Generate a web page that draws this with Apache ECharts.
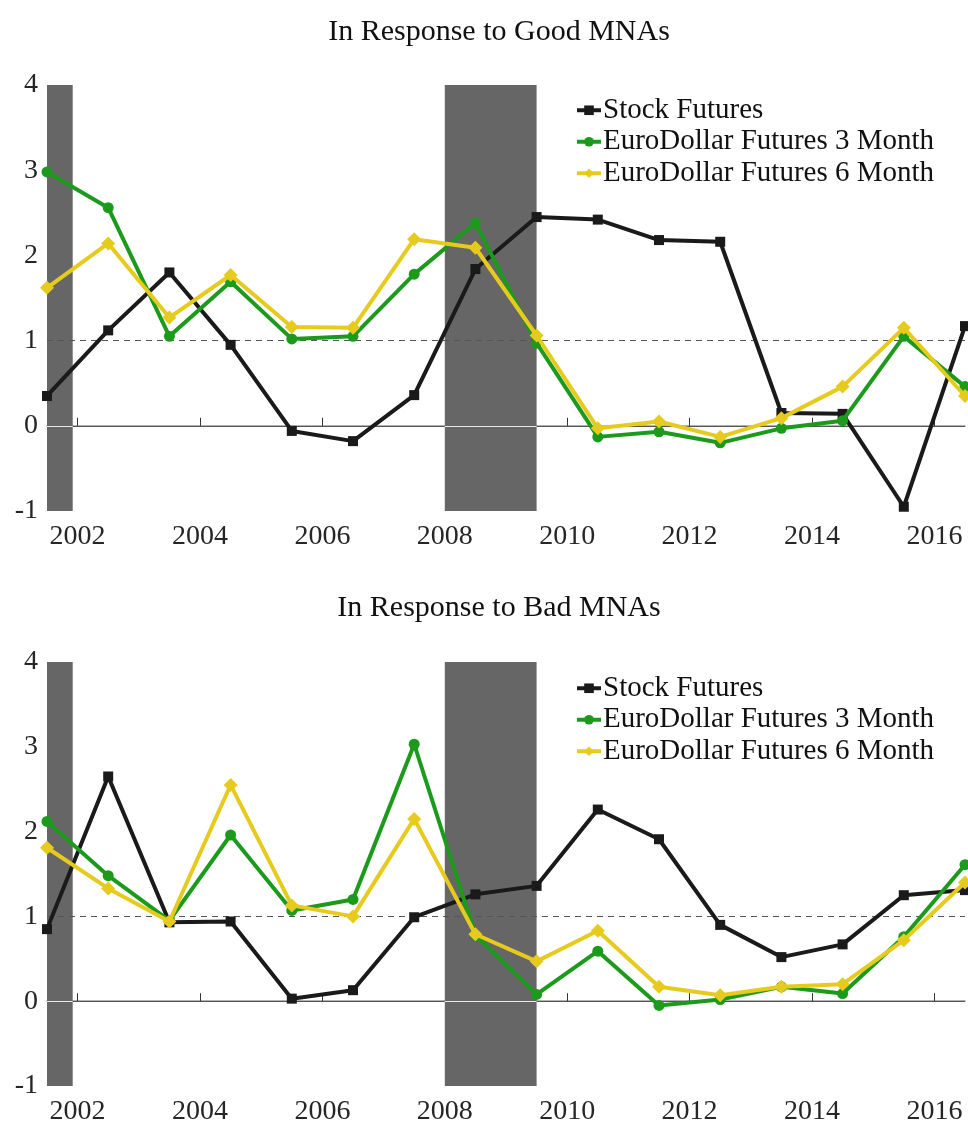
<!DOCTYPE html>
<html>
<head>
<meta charset="utf-8">
<script src="https://cdn.jsdelivr.net/npm/echarts@6/dist/echarts.min.js"></script>
<style>
  html, body { margin: 0; padding: 0; background: #fff; }
  #chart { width: 968px; height: 1126px; }
</style>
</head>
<body>
<div id="chart"></div>
<script>
// Observation dates (mid-year)
const years = [2001.5, 2002.5, 2003.5, 2004.5, 2005.5, 2006.5, 2007.5, 2008.5,
               2009.5, 2010.5, 2011.5, 2012.5, 2013.5, 2014.5, 2015.5, 2016.5];

// Responses to good MNAs
const goodStock = [0.35, 1.12, 1.80, 0.95, -0.06, -0.18, 0.36, 1.84,
                   2.45, 2.42, 2.18, 2.16, 0.15, 0.14, -0.95, 1.17];
const goodED3 = [2.98, 2.56, 1.05, 1.69, 1.02, 1.05, 1.78, 2.38,
                 0.97, -0.13, -0.07, -0.20, -0.03, 0.06, 1.05, 0.46];
const goodED6 = [1.62, 2.14, 1.27, 1.77, 1.16, 1.15, 2.19, 2.09,
                 1.06, -0.03, 0.05, -0.13, 0.09, 0.46, 1.15, 0.35];

// Responses to bad MNAs
const badStock = [0.85, 2.65, 0.93, 0.94, 0.03, 0.13, 0.99, 1.26,
                  1.36, 2.26, 1.91, 0.90, 0.52, 0.67, 1.25, 1.31];
const badED3 = [2.12, 1.48, 0.95, 1.96, 1.07, 1.20, 3.03, 0.78,
                0.08, 0.59, -0.05, 0.02, 0.17, 0.09, 0.76, 1.61];
const badED6 = [1.81, 1.33, 0.94, 2.55, 1.13, 1.00, 2.15, 0.79,
                0.47, 0.83, 0.17, 0.07, 0.17, 0.20, 0.72, 1.40];

// NBER recessions (start, end), clipped to the sample
const recessions = [[2001.5, 2001.92], [2008.0, 2009.5]];

const xTicks = [2002, 2004, 2006, 2008, 2010, 2012, 2014, 2016];
const panelTitles = ['In Response to Good MNAs', 'In Response to Bad MNAs'];
const seriesNames = ['Stock Futures', 'EuroDollar Futures 3 Month', 'EuroDollar Futures 6 Month'];

const SERIF = '"Liberation Serif", "DejaVu Serif", serif';
const colors = ['#1a1a1a', '#1c9a1c', '#e6cb1e'];
const symbols = ['rect', 'circle', 'diamond'];
const symbolSizes = [10, 11, 14];

const panels = [
  { top: 85, height: 426, data: [goodStock, goodED3, goodED6], titleTop: 12, legendTop: 90 },
  { top: 662, height: 427, data: [badStock, badED3, badED6], titleTop: 588, legendTop: 668 }
];

const grid = [], xAxis = [], yAxis = [], series = [], title = [], legend = [];

panels.forEach((p, i) => {
  grid.push({ left: 47, right: 3, top: p.top, height: p.height, containLabel: false });
  title.push({
    text: panelTitles[i], left: 494, top: p.titleTop, textAlign: 'center',
    textStyle: { fontFamily: SERIF, fontSize: 30, fontWeight: 'normal', color: '#111' }
  });
  xAxis.push({
    type: 'value', gridIndex: i, min: 2001.5, max: 2016.5,
    axisLine: { show: true, lineStyle: { color: '#999', width: 1.5 } },
    axisTick: { show: true, inside: true, length: 8, customValues: xTicks,
                lineStyle: { color: '#333', width: 1 } },
    axisLabel: { customValues: xTicks, fontFamily: SERIF, fontSize: 28, color: '#262626',
                 margin: 12, formatter: v => String(v) },
    splitLine: { show: false }
  });
  yAxis.push({
    type: 'value', gridIndex: i, min: -1, max: 4, interval: 1,
    axisLine: { show: false }, axisTick: { show: false },
    axisLabel: { fontFamily: SERIF, fontSize: 28, color: '#262626', margin: 9 },
    splitLine: { show: false }
  });

  // recession shading, with the zero line running light across each span
  series.push({
    type: 'line', xAxisIndex: i, yAxisIndex: i, data: [], z: 1, silent: true,
    markArea: {
      silent: true, z: 1,
      itemStyle: { color: '#666666', opacity: 1 },
      data: recessions.map(r => [{ xAxis: r[0] }, { xAxis: r[1] }])
    },
    markLine: {
      silent: true, z: 2, symbol: 'none', label: { show: false },
      lineStyle: { type: 'solid', color: '#e8e8e8', width: 1 },
      data: recessions.map(r => [{ coord: [r[0], 0] }, { coord: [r[1], 0] }])
    }
  });
  // reference lines at 0 and 1
  series.push({
    type: 'line', xAxisIndex: i, yAxisIndex: i, data: [], z: 2, silent: true,
    markLine: {
      silent: true, z: 1, symbol: 'none', label: { show: false },
      data: [
        { yAxis: 0, lineStyle: { type: 'solid', color: '#555', width: 1 } },
        { yAxis: 1, lineStyle: { type: [6, 5], color: '#555', width: 1 } }
      ]
    }
  });

  p.data.forEach((vals, k) => {
    series.push({
      name: seriesNames[k], type: 'line', xAxisIndex: i, yAxisIndex: i, z: 3 + k,
      data: years.map((y, j) => [y, vals[j]]),
      symbol: symbols[k], symbolSize: symbolSizes[k], showAllSymbol: true,
      lineStyle: { color: colors[k], width: 4 },
      itemStyle: { color: colors[k] },
      emphasis: { disabled: true }
    });
  });

  legend.push({
    data: seriesNames, orient: 'vertical', left: 570, top: p.legendTop,
    itemWidth: 24, itemHeight: 12, itemGap: 1,
    lineStyle: { width: 4 },
    textStyle: { fontFamily: SERIF, fontSize: 29, color: '#111', lineHeight: 30.5, padding: [0, 0, 0, -3] }
  });
});

const chart = echarts.init(document.getElementById('chart'), null, { renderer: 'canvas' });
chart.setOption({
  backgroundColor: '#ffffff',
  animation: false,
  title, grid, xAxis, yAxis, series, legend
});
</script>
</body>
</html>
